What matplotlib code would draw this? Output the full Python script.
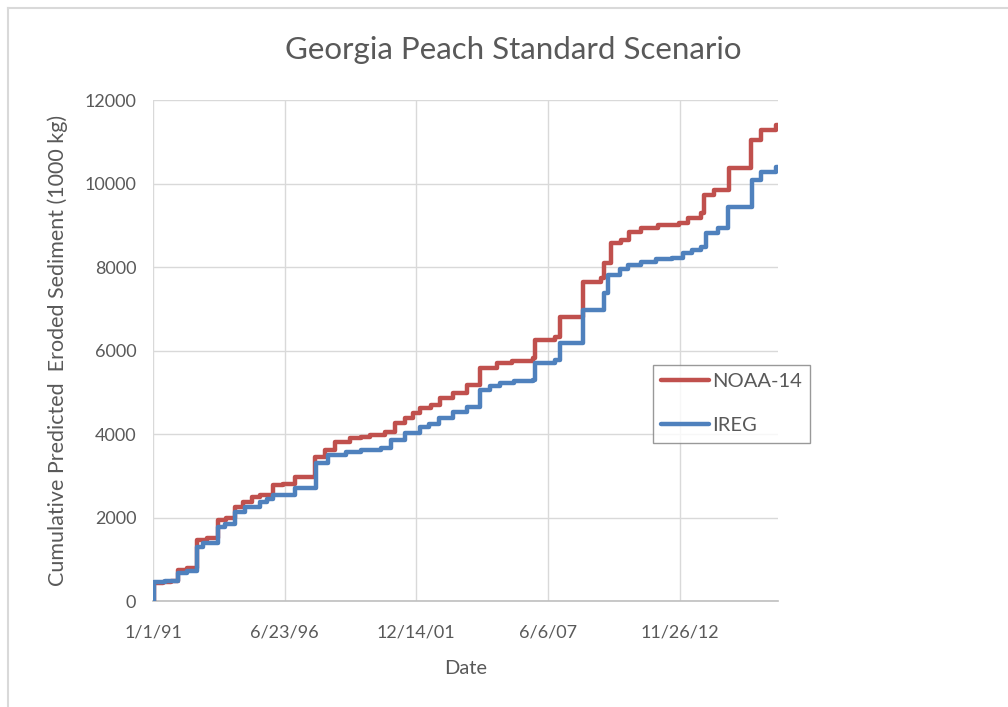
import numpy as np
import pandas as pd
import matplotlib
matplotlib.use("Agg")
import matplotlib.pyplot as plt
from matplotlib import rcParams

rcParams["font.family"] = ["Lato", "DejaVu Sans"]

# step points (value holds until next date)
NOAA_DATES = ["1991-01-01", "1991-01-20", "1991-06-01", "1991-10-01", "1992-01-16",
              "1992-06-01", "1992-11-01", "1993-04-01", "1993-09-16", "1994-01-15",
              "1994-06-01", "1994-10-01", "1995-02-15", "1995-06-16", "1996-01-01",
              "1996-06-01", "1996-12-01", "1997-10-01", "1998-03-01", "1998-07-31",
              "1999-03-16", "1999-09-01", "2000-01-14", "2000-08-31", "2001-01-30",
              "2001-07-01", "2001-10-31", "2002-02-14", "2002-08-01", "2002-12-15",
              "2003-07-01", "2004-01-30", "2004-08-15", "2005-04-30", "2005-12-01",
              "2006-10-30", "2006-11-29", "2007-09-29", "2007-12-14", "2008-11-13",
              "2009-08-14", "2009-09-29", "2010-01-13", "2010-06-14", "2010-10-14",
              "2011-04-14", "2011-12-29", "2012-11-12", "2013-03-29", "2013-10-13",
              "2013-11-27", "2014-04-29", "2014-12-13", "2015-11-12", "2016-04-12",
              "2016-11-26", "2016-12-31"]
NOAA_VALS = [0, 430, 460, 480, 740,
             780, 1460, 1500, 1940, 2000,
             2250, 2380, 2490, 2550, 2780,
             2800, 2970, 3450, 3620, 3810,
             3900, 3940, 3980, 4050, 4260,
             4380, 4500, 4620, 4700, 4860,
             4980, 5170, 5580, 5700, 5760,
             5820, 6250, 6320, 6800, 7640,
             7740, 8100, 8580, 8650, 8840,
             8930, 9010, 9050, 9170, 9290,
             9720, 9840, 10370, 11040, 11280,
             11400, 11400]

IREG_DATES = ["1991-01-01", "1991-01-20", "1991-07-01", "1992-01-16", "1992-06-01",
              "1992-11-01", "1993-02-01", "1993-09-16", "1994-01-01", "1994-06-01",
              "1994-11-01", "1995-06-16", "1995-10-01", "1996-01-01", "1996-12-01",
              "1997-10-15", "1998-04-15", "1999-01-15", "1999-09-01", "2000-07-01",
              "2000-12-01", "2001-07-01", "2002-02-14", "2002-07-01", "2002-12-01",
              "2003-07-01", "2004-01-30", "2004-08-15", "2005-01-01", "2005-06-15",
              "2006-01-01", "2006-10-30", "2006-11-29", "2007-09-29", "2007-12-14",
              "2008-11-13", "2009-09-29", "2009-12-01", "2010-06-01", "2010-10-01",
              "2011-04-14", "2011-12-01", "2012-08-01", "2013-01-15", "2013-06-01",
              "2013-10-13", "2013-12-27", "2014-07-01", "2014-12-01", "2015-11-26",
              "2016-04-12", "2016-11-26", "2016-12-31"]
IREG_VALS = [0, 450, 480, 670, 720,
             1290, 1390, 1770, 1850, 2130,
             2250, 2370, 2450, 2540, 2710,
             3300, 3500, 3570, 3620, 3660,
             3860, 4020, 4170, 4250, 4380,
             4530, 4650, 5050, 5150, 5220,
             5260, 5290, 5700, 5770, 6180,
             6970, 7380, 7810, 7950, 8050,
             8120, 8180, 8220, 8330, 8400,
             8480, 8810, 8930, 9440, 10080,
             10280, 10390, 10390]

TICK_DATES = ["1991-01-01", "1996-06-23", "2001-12-14", "2007-06-06", "2012-11-26"]
TICK_LABELS = ["1/1/91", "6/23/96", "12/14/01", "6/6/07", "11/26/12"]

TXT = "#595959"
GRID = "#D9D9D9"

fig = plt.figure(figsize=(10.08, 7.07), dpi=100, facecolor="white")
ax = fig.add_axes([153 / 1008, 1 - 601 / 707, 625 / 1008, 501 / 707])

nd = pd.to_datetime(NOAA_DATES)
idt = pd.to_datetime(IREG_DATES)
ax.step(nd, NOAA_VALS, where="post", color="#C0504D", lw=3.2, label="NOAA-14",
        solid_capstyle="round", solid_joinstyle="round", zorder=3)
ax.step(idt, IREG_VALS, where="post", color="#4F81BD", lw=3.2, label="IREG",
        solid_capstyle="round", solid_joinstyle="round", zorder=4)

ax.set_xlim(pd.Timestamp("1991-01-01"), pd.Timestamp("2016-12-31"))
ax.set_ylim(0, 12000)
ax.set_yticks(np.arange(0, 12001, 2000))
ax.set_xticks(pd.to_datetime(TICK_DATES))
ax.set_xticklabels(TICK_LABELS)

ax.grid(True, color=GRID, lw=1.0)
ax.set_axisbelow(True)
for s in ["top", "right", "left"]:
    ax.spines[s].set_visible(False)
ax.spines["bottom"].set_color("#BFBFBF")
ax.spines["bottom"].set_linewidth(1.2)
ax.tick_params(length=0, labelsize=13, colors=TXT)
ax.tick_params(axis="x", pad=17)
ax.tick_params(axis="y", pad=12)

ax.set_xlabel("Date", fontsize=14.5, color=TXT, labelpad=14)
ax.set_ylabel("Cumulative Predicted  Eroded Sediment (1000 kg)", fontsize=15.5, color=TXT,
              labelpad=12)
fig.text(513 / 1008, 1 - 50 / 707, "Georgia Peach Standard Scenario", fontsize=22.5,
         color=TXT, ha="center", va="center")

leg = ax.legend(loc="upper left", bbox_to_anchor=(0.8, 0.471), fontsize=14.5, frameon=True,
                fancybox=False, edgecolor="#808080", handlelength=2.4, labelspacing=1.35,
                borderpad=0.4, handletextpad=0.15, borderaxespad=0, labelcolor=TXT)
leg.get_frame().set_linewidth(1.0)

# chart frame edge, partly visible at top and left
fig.add_artist(plt.Line2D([8 / 1008, 1], [1 - 8 / 707, 1 - 8 / 707], color="#D9D9D9", lw=1.5))
fig.add_artist(plt.Line2D([8 / 1008, 8 / 1008], [0, 1 - 8 / 707], color="#D9D9D9", lw=1.5))

fig.savefig("out.png", dpi=100)
